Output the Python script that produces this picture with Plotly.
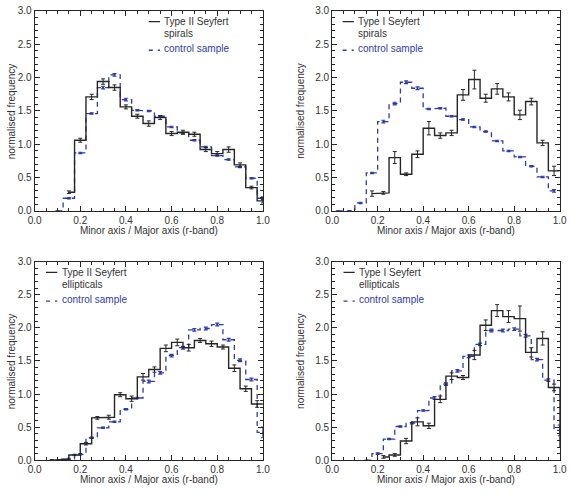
import plotly.graph_objects as go

# ---------------- data ----------------
# Panel 1: Type II Seyfert spirals
p1_sey_x = [0.15, 0.20, 0.25, 0.30, 0.35, 0.40, 0.45, 0.50, 0.55, 0.60, 0.65, 0.70, 0.75, 0.80, 0.85, 0.90, 0.95, 1.00]
p1_sey_y = [0.28, 1.06, 1.71, 1.94, 1.85, 1.56, 1.42, 1.31, 1.40, 1.16, 1.18, 1.15, 0.92, 0.86, 0.92, 0.69, 0.35, 0.15]
p1_sey_e = [0.02, 0.03, 0.04, 0.04, 0.04, 0.03, 0.03, 0.04, 0.03, 0.03, 0.03, 0.03, 0.03, 0.03, 0.04, 0.03, 0.02, 0.03]
p1_ctl_x = [0.10, 0.15, 0.20, 0.25, 0.30, 0.35, 0.40, 0.45, 0.50, 0.55, 0.60, 0.65, 0.70, 0.75, 0.80, 0.85, 0.90, 0.95, 1.00]
p1_ctl_y = [0.00, 0.19, 0.87, 1.46, 1.85, 2.04, 1.67, 1.51, 1.50, 1.42, 1.26, 1.17, 1.06, 0.96, 0.83, 0.77, 0.66, 0.49, 0.19]
p1_ctl_e = [0.00, 0.01, 0.01, 0.01, 0.02, 0.02, 0.02, 0.01, 0.01, 0.01, 0.01, 0.01, 0.01, 0.01, 0.01, 0.01, 0.01, 0.01, 0.02]

# Panel 2: Type I Seyfert spirals
p2_sey_x = [0.175, 0.225, 0.275, 0.325, 0.375, 0.425, 0.475, 0.525, 0.575, 0.625, 0.675, 0.725, 0.775, 0.825, 0.875, 0.925, 0.975]
p2_sey_y = [0.26, 0.27, 0.80, 0.55, 0.85, 1.24, 1.13, 1.17, 1.74, 1.97, 1.69, 1.83, 1.71, 1.44, 1.64, 1.02, 0.60]
p2_sey_e = [0.04, 0.02, 0.09, 0.02, 0.05, 0.10, 0.04, 0.04, 0.08, 0.14, 0.06, 0.08, 0.06, 0.07, 0.05, 0.04, 0.07]
p2_ctl_x = [0.025, 0.075, 0.125, 0.175, 0.225, 0.275, 0.325, 0.375, 0.425, 0.475, 0.525, 0.575, 0.625, 0.675, 0.725, 0.775, 0.825, 0.875, 0.925, 0.975]
p2_ctl_y = [0.00, 0.00, 0.12, 0.57, 1.34, 1.61, 1.93, 1.84, 1.53, 1.54, 1.42, 1.37, 1.26, 1.19, 1.05, 0.90, 0.81, 0.67, 0.51, 0.30]
p2_ctl_e = [0.00, 0.00, 0.01, 0.01, 0.02, 0.02, 0.02, 0.02, 0.01, 0.01, 0.01, 0.01, 0.01, 0.01, 0.01, 0.01, 0.01, 0.01, 0.01, 0.02]

# Panel 3: Type II Seyfert ellipticals
p3_sey_x = [0.075, 0.125, 0.175, 0.225, 0.275, 0.325, 0.375, 0.425, 0.475, 0.525, 0.575, 0.625, 0.675, 0.725, 0.775, 0.825, 0.875, 0.925, 0.975]
p3_sey_y = [0.00, 0.01, 0.08, 0.25, 0.64, 0.65, 0.99, 0.93, 1.26, 1.37, 1.69, 1.78, 1.70, 1.81, 1.76, 1.71, 1.39, 1.08, 0.85]
p3_sey_e = [0.01, 0.01, 0.01, 0.02, 0.02, 0.03, 0.03, 0.04, 0.05, 0.04, 0.05, 0.05, 0.05, 0.03, 0.04, 0.03, 0.05, 0.04, 0.05]
p3_ctl_x = [0.10, 0.15, 0.20, 0.25, 0.30, 0.35, 0.40, 0.45, 0.50, 0.55, 0.60, 0.65, 0.70, 0.75, 0.80, 0.85, 0.90, 0.95, 1.00]
p3_ctl_y = [0.00, 0.02, 0.09, 0.34, 0.49, 0.58, 0.77, 0.94, 1.19, 1.32, 1.58, 1.70, 1.97, 1.99, 2.05, 1.82, 1.51, 1.22, 0.42]
p3_ctl_e = [0.00, 0.01, 0.01, 0.01, 0.01, 0.01, 0.01, 0.01, 0.02, 0.02, 0.02, 0.02, 0.02, 0.02, 0.02, 0.02, 0.02, 0.02, 0.08]

# Panel 4: Type I Seyfert ellipticals
p4_sey_x = [0.225, 0.275, 0.325, 0.375, 0.425, 0.475, 0.525, 0.575, 0.625, 0.675, 0.725, 0.775, 0.825, 0.875, 0.925, 0.975, 1.025]
p4_sey_y = [0.05, 0.08, 0.29, 0.58, 0.52, 0.92, 1.27, 1.25, 1.59, 2.04, 2.26, 2.17, 2.14, 1.63, 1.84, 1.10, 0.20]
p4_sey_e = [0.02, 0.02, 0.04, 0.06, 0.04, 0.05, 0.05, 0.03, 0.07, 0.08, 0.09, 0.09, 0.19, 0.07, 0.10, 0.05, 0.05]
p4_ctl_x = [0.15, 0.20, 0.25, 0.30, 0.35, 0.40, 0.45, 0.50, 0.55, 0.60, 0.65, 0.70, 0.75, 0.80, 0.85, 0.90, 0.95, 1.00]
p4_ctl_y = [0.00, 0.10, 0.32, 0.51, 0.56, 0.75, 0.94, 1.15, 1.35, 1.57, 1.75, 1.96, 1.96, 1.98, 1.88, 1.52, 1.21, 0.45]
p4_ctl_e = [0.00, 0.01, 0.01, 0.01, 0.01, 0.01, 0.02, 0.02, 0.02, 0.02, 0.02, 0.02, 0.02, 0.02, 0.02, 0.02, 0.02, 0.08]

legend_titles = [("Type II Seyfert", "spirals"), ("Type I Seyfert", "spirals"),
                 ("Type II Seyfert", "ellipticals"), ("Type I Seyfert", "ellipticals")]
control_label = "control sample"
x_title = "Minor axis / Major axis (r-band)"
y_title = "normalised frequency"

# ---------------- styling ----------------
W, H = 572, 496
BLACK = "#262626"
BLUE = "#2f3ca8"
FONT = "Liberation Sans, Arial, Helvetica, sans-serif"

# panel frames in pixels: (left, right, top, bottom)
frames = [(28.3, 262.3, 5.0, 210.0), (333.3, 566.6, 5.0, 210.0),
          (28.3, 262.3, 262.0, 465.5), (333.3, 566.6, 262.0, 465.5)]

panels = [
    (p1_sey_x, p1_sey_y, p1_sey_e, p1_ctl_x, p1_ctl_y, p1_ctl_e, 0.50),
    (p2_sey_x, p2_sey_y, p2_sey_e, p2_ctl_x, p2_ctl_y, p2_ctl_e, 0.046),
    (p3_sey_x, p3_sey_y, p3_sey_e, p3_ctl_x, p3_ctl_y, p3_ctl_e, 0.05),
    (p4_sey_x, p4_sey_y, p4_sey_e, p4_ctl_x, p4_ctl_y, p4_ctl_e, 0.05),
]


def step(c, v):
    """IDL psym=10 style histogram outline from bin centres."""
    w = c[1] - c[0]
    xs, ys = [c[0]], [v[0]]
    for i in range(1, len(c)):
        m = (c[i - 1] + c[i]) / 2
        xs += [m, m]
        ys += [v[i - 1], v[i]]
    xs.append(c[-1] + w / 2)
    ys.append(v[-1])
    return xs, ys


fig = go.Figure()
annotations = []
shapes = []

for i, (sx, sy, se, cx, cy, ce, lx) in enumerate(panels):
    n = i + 1
    xa = "x" if n == 1 else f"x{n}"
    ya = "y" if n == 1 else f"y{n}"
    L, R, T, B = frames[i]

    # control sample (blue dashed)
    xs, ys = step(cx, cy)
    fig.add_trace(go.Scatter(x=xs, y=ys, mode="lines", xaxis=xa, yaxis=ya,
                             line=dict(color=BLUE, width=1.3, dash="5px,4px"),
                             showlegend=False, hoverinfo="skip"))
    fig.add_trace(go.Scatter(x=cx, y=cy, mode="markers", xaxis=xa, yaxis=ya,
                             marker=dict(size=2, color=BLUE),
                             error_y=dict(type="data", array=ce, color=BLUE, thickness=1.2, width=2),
                             showlegend=False))
    # Seyfert sample (black solid)
    xs, ys = step(sx, sy)
    fig.add_trace(go.Scatter(x=xs, y=ys, mode="lines", xaxis=xa, yaxis=ya,
                             line=dict(color=BLACK, width=1.4),
                             showlegend=False, hoverinfo="skip"))
    fig.add_trace(go.Scatter(x=sx, y=sy, mode="markers", xaxis=xa, yaxis=ya,
                             marker=dict(size=1, color=BLACK),
                             error_y=dict(type="data", array=se, color=BLACK, thickness=1, width=2),
                             showlegend=False))

    dom_x = [L / W, R / W]
    dom_y = [1 - B / H, 1 - T / H]
    axis_common = dict(showline=True, linecolor=BLACK, linewidth=1, mirror="ticks",
                       ticks="inside", ticklen=5, tickcolor=BLACK, tickwidth=1,
                       showgrid=False, zeroline=False,
                       tickfont=dict(family=FONT, size=10, color="#333333"))
    fig.layout[("xaxis" if n == 1 else f"xaxis{n}")] = dict(
        domain=dom_x, anchor=ya, range=[0, 1], tickvals=[0, 0.2, 0.4, 0.6, 0.8, 1.0],
        tickformat=".1f",
        minor=dict(dtick=0.05, tick0=0, ticks="inside", ticklen=3, tickcolor=BLACK),
        **axis_common)
    fig.layout[("yaxis" if n == 1 else f"yaxis{n}")] = dict(
        domain=dom_y, anchor=xa, range=[0, 3], tickvals=[0, 0.5, 1.0, 1.5, 2.0, 2.5, 3.0],
        tickformat=".1f",
        minor=dict(dtick=0.1, tick0=0, ticks="inside", ticklen=3, tickcolor=BLACK),
        **axis_common)

    # axis titles
    annotations.append(dict(text=x_title, xref="paper", yref="paper",
                            x=(L + R) / 2 / W, y=1 - (B + 20) / H, showarrow=False,
                            xanchor="center", yanchor="middle",
                            font=dict(family=FONT, size=10, color="#333333")))
    ytx = max(L - 32, 5.5)
    annotations.append(dict(text=y_title, xref="paper", yref="paper",
                            x=ytx / W, y=1 - (T + B) / 2 / H, showarrow=False,
                            textangle=-90, xanchor="center", yanchor="middle",
                            font=dict(family=FONT, size=10, color="#333333")))

    # legend
    t1, t2 = legend_titles[i]
    ppu = (B - T) / 3.0
    y1 = 3.0 - 11 / ppu
    y2 = 3.0 - 23 / ppu
    y3 = 3.0 - 39 / ppu
    dx = 11.5 / (R - L)
    tx = lx + dx + 2.5 / (R - L)
    shapes.append(dict(type="line", xref=xa, yref=ya, x0=lx, x1=lx + dx, y0=y1, y1=y1,
                       line=dict(color=BLACK, width=1.4)))
    shapes.append(dict(type="line", xref=xa, yref=ya, x0=lx, x1=lx + dx, y0=y3 - 0.02, y1=y3 - 0.02,
                       line=dict(color=BLUE, width=1.3, dash="4px,5px")))
    for txt, yy, col in [(t1, y1, "#333333"), (t2, y2, "#333333"), (control_label, y3, BLUE)]:
        annotations.append(dict(text=txt, xref=xa, yref=ya, x=tx, y=yy, showarrow=False,
                                xanchor="left", yanchor="middle",
                                font=dict(family=FONT, size=10, color=col)))

fig.update_layout(width=W, height=H, autosize=False,
                  margin=dict(l=0, r=0, t=0, b=0),
                  paper_bgcolor="white", plot_bgcolor="white",
                  annotations=annotations, shapes=shapes, showlegend=False)

fig.write_html("out.html")
